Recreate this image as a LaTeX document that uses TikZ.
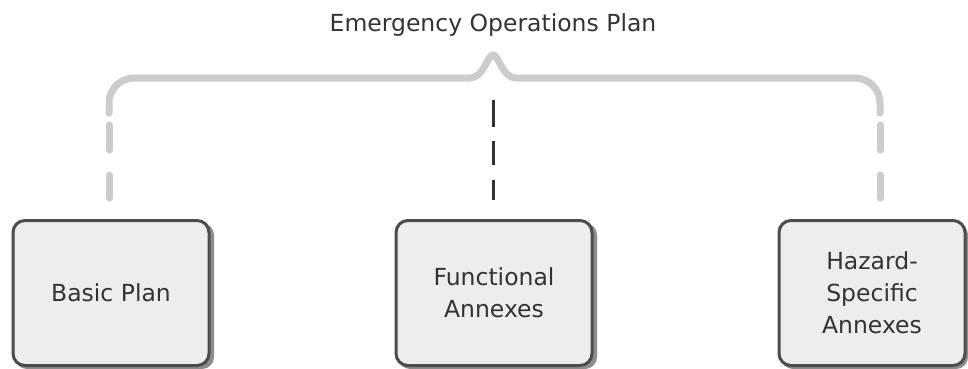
\documentclass[tikz,border=0pt]{standalone}
\usepackage{fontspec}
\setmainfont{DejaVu Sans}
\begin{document}
\begin{tikzpicture}[x=1pt,y=-1pt,
  plan/.style={draw=black!70, line width=3pt, rounded corners=12pt, fill=black!7,
    minimum width=196pt, minimum height=145pt, align=center, text=black!80,
    font=\fontsize{23.5}{32}\selectfont, inner sep=0pt},
  shadowbox/.style={fill=black!45, rounded corners=12pt},
  brace/.style={draw=black!20, line width=7pt, line cap=round},
  centerdash/.style={draw=black!80, line width=3pt}
]
\useasboundingbox (0,0) rectangle (968,369);
\node (title) at (493,25) [font=\fontsize{23.5}{28}\selectfont, text=black!80] {Emergency Operations Plan};
% shadows
\fill[shadowbox] (15,223) rectangle (214,369);
\fill[shadowbox] (398,223) rectangle (597,369);
\fill[shadowbox] (781,223) rectangle (968,369);
\node[plan] (basic) at (111,293) {Basic Plan};
\node[plan] (func) at (494,293) {Functional\\Annexes};
\node[plan, minimum width=186pt] (haz) at (872,293) {Hazard-\\Specific\\Annexes};
% brace
\coordinate (bl) at (109,113);
\coordinate (br) at (880,113);
\coordinate (peak) at (493,55);
\draw[brace] (bl) -- (109,103) arc[start angle=180,end angle=270,radius=25] -- (470,78)
  .. controls (484,78) and (487,55) .. (peak)
  .. controls (499,55) and (502,78) .. (516,78) -- (855,78)
  arc[start angle=270,end angle=360,radius=25] -- (br);
\coordinate (l1a) at (109,125); \coordinate (l1b) at (109,150);
\coordinate (l2a) at (109,175); \coordinate (l2b) at (109,198);
\coordinate (r1a) at (880,125); \coordinate (r1b) at (880,150);
\coordinate (r2a) at (880,175); \coordinate (r2b) at (880,198);
\draw[brace] (l1a) -- (l1b) (l2a) -- (l2b) (r1a) -- (r1b) (r2a) -- (r2b);
% center dashes
\coordinate (c1a) at (493,100); \coordinate (c1b) at (493,127);
\coordinate (c2a) at (493,141); \coordinate (c2b) at (493,165);
\coordinate (c3a) at (493,180); \coordinate (c3b) at (493,200);
\draw[centerdash] (c1a) -- (c1b) (c2a) -- (c2b) (c3a) -- (c3b);
\end{tikzpicture}
\end{document}
